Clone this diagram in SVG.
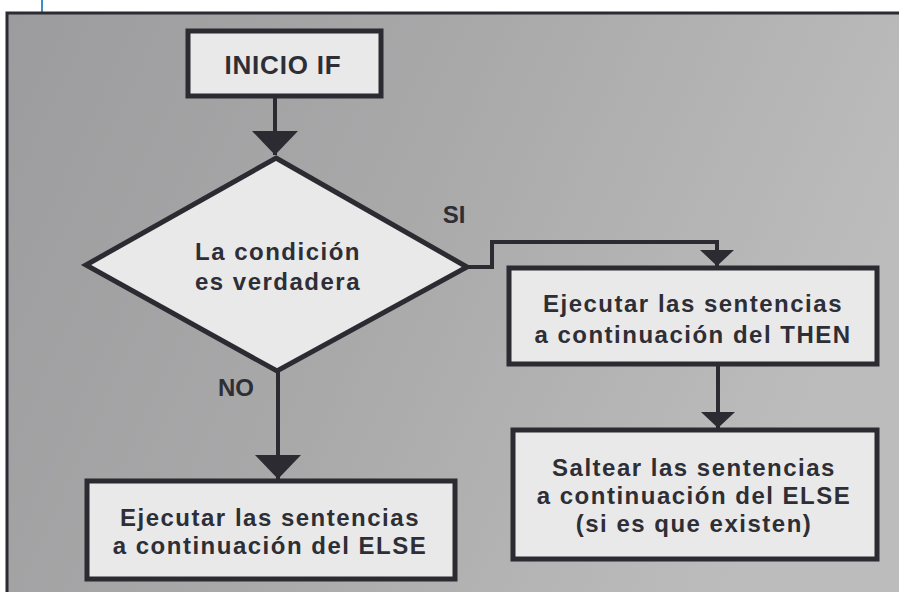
<svg xmlns="http://www.w3.org/2000/svg" width="899" height="592" viewBox="0 0 899 592">
  <defs>
    <linearGradient id="bg" x1="0" y1="0" x2="1" y2="0.3">
      <stop offset="0" stop-color="#9c9c9e"/>
      <stop offset="0.5" stop-color="#a9a9aa"/>
      <stop offset="1" stop-color="#bcbcbc"/>
    </linearGradient>
    <marker id="arr" viewBox="0 0 24 46" refX="24" refY="23" markerWidth="24" markerHeight="46" markerUnits="userSpaceOnUse" orient="auto">
      <path d="M0,0 L24,23 L0,46 Z" fill="#2b2b31"/>
    </marker>
    <marker id="arrs" viewBox="0 0 16 34" refX="16" refY="17" markerWidth="16" markerHeight="34" markerUnits="userSpaceOnUse" orient="auto">
      <path d="M0,0 L16,17 L0,34 Z" fill="#2b2b31"/>
    </marker>
  </defs>
  <style>
    .box { fill: #e9e9ea; stroke: #2b2b31; stroke-width: 5; }
    .conn { fill: none; stroke: #2b2b31; stroke-width: 4; }
    .t { font-family: "Liberation Sans", Arial, sans-serif; font-weight: bold; font-size: 24px; fill: #2e2e36; text-anchor: middle; letter-spacing: 1.5px; }
    .lbl { font-family: "Liberation Sans", Arial, sans-serif; font-weight: bold; font-size: 24px; fill: #2e2e36; text-anchor: middle; }
  </style>
  <rect x="0" y="0" width="899" height="592" fill="#ffffff"/>
  <line x1="42" y1="0" x2="42" y2="14" stroke="#3a8fc8" stroke-width="2"/>
  <rect x="7" y="13" width="900" height="590" fill="url(#bg)" stroke="#2b2b31" stroke-width="3"/>

  <g id="connectors">
    <path class="conn" d="M275,97 V155" marker-end="url(#arr)"/>
    <path class="conn" d="M467,267 H492 V242 H717 V266" marker-end="url(#arrs)"/>
    <path class="conn" d="M278,371 V479" marker-end="url(#arr)"/>
    <path class="conn" d="M718,365 V428" marker-end="url(#arrs)"/>
  </g>

  <g id="inicio">
    <rect class="box" x="188" y="31" width="193" height="65"/>
    <text class="t" x="283" y="74" style="font-size:26px;letter-spacing:0.8px">INICIO IF</text>
  </g>

  <g id="condicion">
    <polygon class="box" points="276,158 467,267 277,371 86,265"/>
    <text class="t" x="278" y="260">La condición</text>
    <text class="t" x="278" y="290">es verdadera</text>
  </g>

  <g id="label-si">
    <text class="lbl" x="454" y="223">SI</text>
  </g>
  <g id="label-no">
    <text class="lbl" x="236" y="396">NO</text>
  </g>

  <g id="then">
    <rect class="box" x="509" y="268" width="368" height="96"/>
    <text class="t" x="693" y="312">Ejecutar las sentencias</text>
    <text class="t" x="693" y="343">a continuación del THEN</text>
  </g>

  <g id="saltear">
    <rect class="box" x="513" y="430" width="364" height="129"/>
    <text class="t" x="694" y="476">Saltear las sentencias</text>
    <text class="t" x="694" y="504">a continuación del ELSE</text>
    <text class="t" x="694" y="532">(si es que existen)</text>
  </g>

  <g id="else">
    <rect class="box" x="87" y="481" width="368" height="98"/>
    <text class="t" x="270" y="526">Ejecutar las sentencias</text>
    <text class="t" x="270" y="554">a continuación del ELSE</text>
  </g>
</svg>
